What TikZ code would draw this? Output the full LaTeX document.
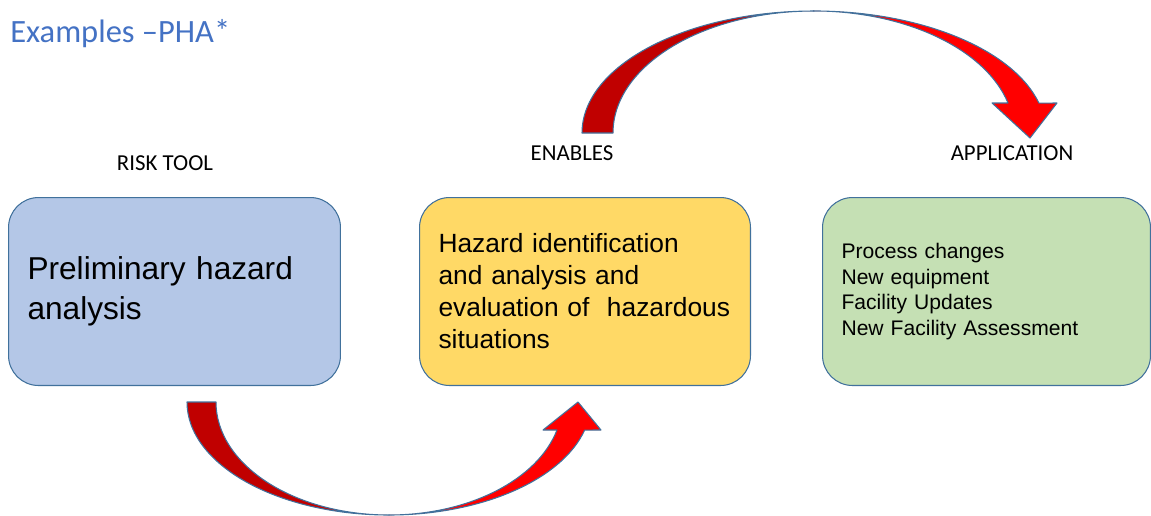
\documentclass[tikz,border=0pt]{standalone}
\usepackage{fontspec}
\setmainfont{Liberation Sans}
\newfontfamily\calibri{Carlito}
\usepackage{tikz}
\usetikzlibrary{arrows.meta,positioning}
\definecolor{titleblue}{HTML}{4472C4}
\definecolor{edgeblue}{HTML}{41719C}
\definecolor{toolfill}{HTML}{B4C7E7}
\definecolor{enablefill}{HTML}{FFD966}
\definecolor{appfill}{HTML}{C5E0B4}
\definecolor{arrowdark}{HTML}{C00000}
\definecolor{arrowred}{HTML}{FF0000}
\tikzset{
  box/.style={rectangle, draw=edgeblue, line width=0.6pt, rounded corners=0.6cm, minimum height=3.76cm, align=left, inner xsep=0.38cm, anchor=north west},
  hdr/.style={font=\calibri\fontsize{13}{15}\selectfont},
  curvearrow/.style={draw=edgeblue, line width=0.6pt, line join=round}
}

\begin{document}
\begin{tikzpicture}[x=0.02cm, y=-0.02cm]
    \useasboundingbox (0,0) rectangle (1151,515);

    % Title
    \node[font=\calibri\fontsize{18.5}{22}\selectfont, text=titleblue, anchor=base west, inner sep=0pt] (title) at (10,42) {Examples –PHA*};

    % Boxes
    \node[box, fill=toolfill, text width=5.88cm, font=\fontsize{18}{22.5}\selectfont] (tool) at (8,197)
        {Preliminary hazard\\analysis};
    \node[box, fill=enablefill, text width=5.86cm, font=\fontsize{15}{18.2}\selectfont] (enable) at (419,197)
        {Hazard identification\\and analysis and\\evaluation of\ \ hazardous\\situations};
    \node[box, fill=appfill, text width=5.80cm, font=\fontsize{12}{14.5}\selectfont] (app) at (822,197)
        {Process changes\\New equipment\\Facility Updates\\New Facility Assessment};

    % Headings
    \node[hdr] (risk) at (165,163) {RISK TOOL};
    \node[hdr] (enables) at (572,153) {ENABLES};
    \node[hdr] (application) at (1012,153) {APPLICATION};

    % Lower curved arrow
    \path[curvearrow, fill=arrowdark] (187,402) arc[start angle=180, end angle=90, x radius=202, y radius=113]
        arc[start angle=90, end angle=180, x radius=173, y radius=113] -- cycle;
    \path[curvearrow, fill=arrowred] (389,515) arc[start angle=90, end angle=14.36, x radius=202, y radius=113]
        -- (601,430) -- (578,402) -- (543,430) -- (557,430)
        arc[start angle=14.36, end angle=90, x radius=173, y radius=113] -- cycle;

    % Upper curved arrow
    \path[curvearrow, fill=arrowdark] (582,133) arc[start angle=180, end angle=270, x radius=232, y radius=122]
        arc[start angle=270, end angle=180, x radius=201, y radius=122] -- cycle;
    \path[curvearrow, fill=arrowred] (814,11) arc[start angle=270, end angle=345.8, x radius=232, y radius=122]
        -- (1057,103) -- (1030,138) -- (992,103) -- (1008,103)
        arc[start angle=345.8, end angle=270, x radius=201, y radius=122] -- cycle;

\end{tikzpicture}
\end{document}
